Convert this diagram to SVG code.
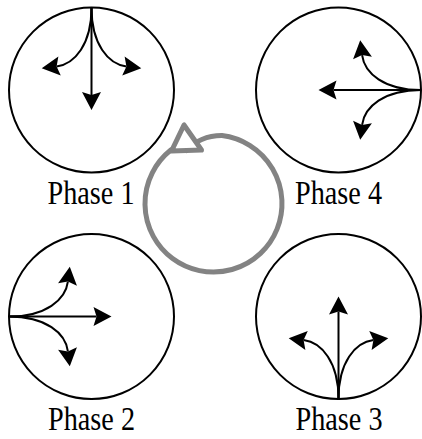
<svg xmlns="http://www.w3.org/2000/svg" width="422" height="439" viewBox="0 0 422 439">
<style>
.ring{fill:#fff;stroke:#000;stroke-width:2}
.arr{fill:none;stroke:#000;stroke-width:2;marker-end:url(#head)}
.lbl{font-family:"Liberation Serif","Times New Roman",serif;font-size:33px;fill:#000;text-anchor:middle}
.cyc{fill:none;stroke:#838383;stroke-width:5;stroke-linejoin:round;stroke-linecap:round}
</style>
<defs>
<marker id="head" markerUnits="userSpaceOnUse" markerWidth="20" markerHeight="20" viewBox="0 -10 20 20" refX="3" refY="0" orient="auto" overflow="visible">
<path d="M0,-9.5 L18,0 L0,9.5 L3,0 Z" fill="#000"/>
</marker>
<g id="fan">
<path class="arr" d="M0,0 L0,87.5"/>
<path class="arr" d="M0,0 C0,37 -16.9,56.6 -34.9,58.9"/>
<path class="arr" d="M0,0 C0,37 16.9,56.6 34.9,58.9"/>
</g>
</defs>
<g id="phase1">
<circle class="ring" cx="91.5" cy="90" r="82.5"/>
<use href="#fan" transform="translate(91.5,7.5)"/>
<text class="lbl" x="91" y="204" textLength="87" lengthAdjust="spacingAndGlyphs">Phase 1</text>
</g>
<g id="phase4">
<circle class="ring" cx="338.5" cy="90" r="82.5"/>
<use href="#fan" transform="translate(421,90) rotate(90)"/>
<text class="lbl" x="338.5" y="204" textLength="87" lengthAdjust="spacingAndGlyphs">Phase 4</text>
</g>
<g id="phase2">
<circle class="ring" cx="91.5" cy="316.5" r="82.5"/>
<use href="#fan" transform="translate(9,316.5) rotate(-90)"/>
<text class="lbl" x="91.5" y="429.5" textLength="87" lengthAdjust="spacingAndGlyphs">Phase 2</text>
</g>
<g id="phase3">
<circle class="ring" cx="338.5" cy="316.5" r="82.5"/>
<use href="#fan" transform="translate(338.5,399) rotate(180)"/>
<text class="lbl" x="339" y="429.5" textLength="87" lengthAdjust="spacingAndGlyphs">Phase 3</text>
</g>
<g id="connectors">
<path class="cyc" d="M170.8,150 A68.5,68.5 0 1 0 222,135.6 C208,135.5 194,141 186.5,150.5"/>
<polygon class="cyc" style="fill:#fff" points="184,125 171.5,151 201.5,150"/>
</g>
</svg>
